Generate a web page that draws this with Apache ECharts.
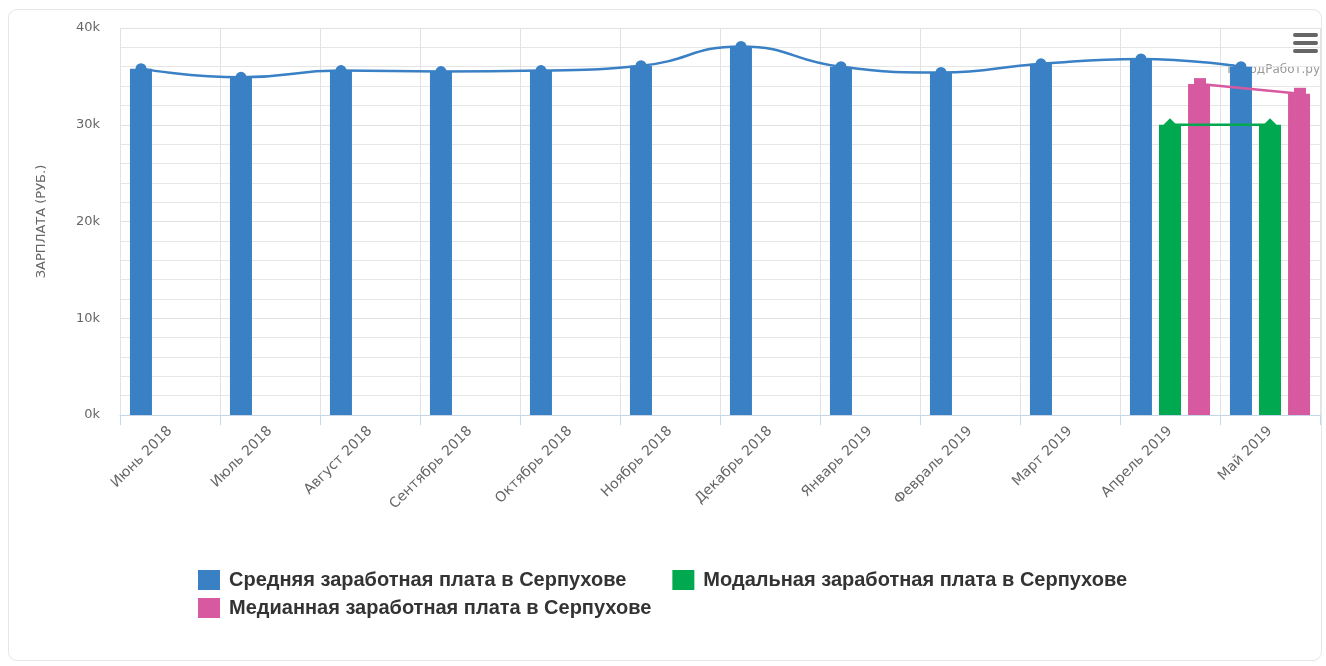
<!DOCTYPE html>
<html>
<head>
<meta charset="utf-8">
<script src="https://cdn.jsdelivr.net/npm/echarts@6/dist/echarts.min.js"></script>
<style>
  html, body { margin: 0; padding: 0; background: #fff; }
  #frame { position: absolute; left: 8px; top: 9px; width: 1314px; height: 652px; border: 1px solid #e6e6e6; border-radius: 9px; box-sizing: border-box; }
  #main { position: absolute; left: 0; top: 0; width: 1326px; height: 666px; }
</style>
</head>
<body>
<div id="frame"></div>
<div id="main"></div>
<script>
const categories = ['Июнь 2018','Июль 2018','Август 2018','Сентябрь 2018','Октябрь 2018','Ноябрь 2018','Декабрь 2018','Январь 2019','Февраль 2019','Март 2019','Апрель 2019','Май 2019'];
const avgSalary = [35800, 34900, 35600, 35500, 35600, 36100, 38100, 36000, 35400, 36300, 36800, 36000];
const modalSalary = [null, null, null, null, null, null, null, null, null, null, 30000, 30000];
const medianSalary = [null, null, null, null, null, null, null, null, null, null, 34200, 33200];
const seriesNames = ['Средняя заработная плата в Серпухове', 'Модальная заработная плата в Серпухове', 'Медианная заработная плата в Серпухове'];
const yMin = 0, yMax = 40000, yInterval = 10000;

const colors = ['#3a80c5', '#00a84f', '#d75aa0'];
const gridBase = { left: 120, width: 1200, top: 28, bottom: 251, outerBoundsMode: 'none' };
const offsets = [-29, 0, 30];
const labelFont = "'DejaVu Sans', 'Liberation Sans', sans-serif";
const legendFont = "'Liberation Sans', Arial, sans-serif";

const grids = [Object.assign({}, gridBase)];
offsets.forEach(o => grids.push(Object.assign({}, gridBase, { left: gridBase.left + o })));

const xAxes = [{
  type: 'category', data: categories, gridIndex: 0, boundaryGap: true,
  axisLine: { lineStyle: { color: '#c6d6e6' } },
  axisTick: { show: true, length: 10, lineStyle: { color: '#c6d6e6' } },
  splitLine: { show: true, lineStyle: { color: '#e2e2e2' } },
  axisLabel: { rotate: 45, color: '#666', fontSize: 14, fontFamily: labelFont, margin: 14, interval: 0 }
}];
const yAxes = [{
  type: 'value', gridIndex: 0, min: yMin, max: yMax, interval: yInterval,
  name: 'ЗАРПЛАТА (РУБ.)', nameLocation: 'middle', nameGap: 72,
  nameTextStyle: { color: '#666', fontSize: 13, fontFamily: labelFont },
  axisLine: { show: false }, axisTick: { show: false },
  axisLabel: { color: '#666', fontSize: 13, fontFamily: labelFont, margin: 20, formatter: v => (v / 1000) + 'k' },
  splitLine: { lineStyle: { color: '#e2e2e2' } },
  minorTick: { show: false, splitNumber: 5 },
  minorSplitLine: { show: true, lineStyle: { color: '#e6e6e6' } }
}];
for (let i = 1; i <= 3; i++) {
  xAxes.push({ type: 'category', data: categories, gridIndex: i, boundaryGap: true, show: false });
  yAxes.push({ type: 'value', gridIndex: i, min: yMin, max: yMax, interval: yInterval, show: false });
}

const dataSets = [avgSalary, modalSalary, medianSalary];
const symbols = ['circle', 'diamond', 'rect'];
const symbolSizes = [11, 13, 12];
const series = [];
dataSets.forEach((d, i) => {
  series.push({
    name: seriesNames[i], type: 'bar', xAxisIndex: 0, yAxisIndex: 0, data: d,
    barWidth: 22, barGap: '32%', itemStyle: { color: colors[i] }, z: 2
  });
});
dataSets.forEach((d, i) => {
  series.push({
    name: seriesNames[i], type: 'line', xAxisIndex: i + 1, yAxisIndex: i + 1, data: d,
    smooth: true, symbol: symbols[i], symbolSize: symbolSizes[i], showSymbol: true,
    lineStyle: { color: colors[i], width: 2.5 }, itemStyle: { color: colors[i] }, z: 3
  });
});

const legendCommon = {
  orient: 'horizontal', icon: 'rect', itemWidth: 22, itemHeight: 20, itemGap: 46, padding: 0,
  textStyle: { color: '#333', fontSize: 20, fontWeight: 'bold', fontFamily: legendFont, padding: [0, 0, 0, 4] },
  selectedMode: false
};

const chart = echarts.init(document.getElementById('main'), null, { renderer: 'canvas' });
chart.setOption({
  animation: false,
  color: colors,
  grid: grids,
  xAxis: xAxes,
  yAxis: yAxes,
  legend: [
    Object.assign({}, legendCommon, { left: 198, top: 570, data: [seriesNames[0], seriesNames[1]] }),
    Object.assign({}, legendCommon, { left: 198, top: 598, data: [seriesNames[2]] })
  ],
  graphic: [
    { type: 'text', right: 6, top: 64, style: { text: 'ГородРабот.ру', fill: '#999', fontSize: 12, fontFamily: labelFont } },
    { type: 'rect', left: 1293, top: 33, shape: { width: 25, height: 4, r: 2 }, style: { fill: '#666' } },
    { type: 'rect', left: 1293, top: 41, shape: { width: 25, height: 4, r: 2 }, style: { fill: '#666' } },
    { type: 'rect', left: 1293, top: 49, shape: { width: 25, height: 4, r: 2 }, style: { fill: '#666' } }
  ],
  series: series
});
</script>
</body>
</html>
